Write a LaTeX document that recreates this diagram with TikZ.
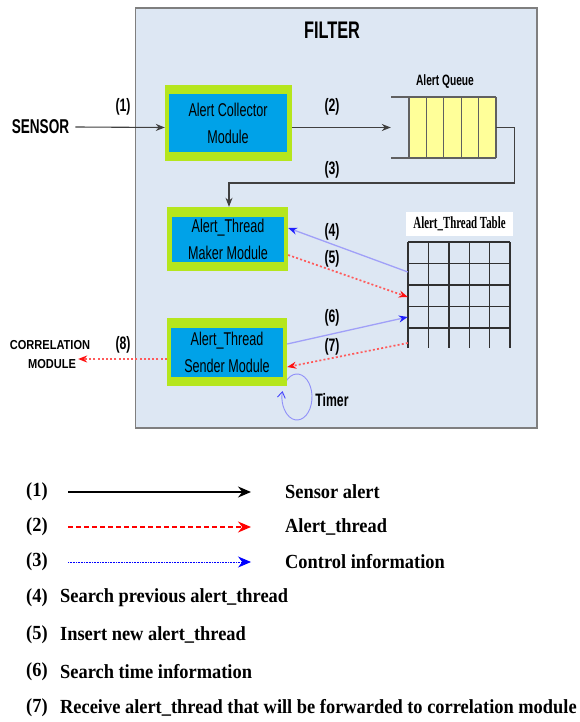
\documentclass[tikz,border=0pt]{standalone}
\usepackage{fontspec}
\setmainfont{Liberation Serif}
\newfontfamily\sansn[FakeStretch=0.68]{Liberation Sans}
\newfontfamily\sansw[FakeStretch=0.85]{Liberation Sans}
\newfontfamily\seriftab[FakeStretch=0.64]{Liberation Serif}
\newfontfamily\serifleg[FakeStretch=0.92]{Liberation Serif}
\usetikzlibrary{arrows.meta,calc}
\definecolor{filterbg}{HTML}{DDE7F3}
\definecolor{filterln}{HTML}{7F7F7F}
\definecolor{lgreen}{HTML}{B5E61D}
\definecolor{mblue}{HTML}{00A2E8}
\definecolor{qyellow}{HTML}{FFFF99}
\definecolor{qline}{HTML}{606060}
\definecolor{ctrlline}{HTML}{A0A0F8}
\definecolor{ctrlhead}{HTML}{2020FF}
\definecolor{redline}{HTML}{FF5A5A}
\definecolor{redhead}{HTML}{FF1010}
\definecolor{darkln}{HTML}{404040}
\definecolor{gridln}{HTML}{303030}
\newcommand\modfont{\sansn\fontsize{18.5}{27}\selectfont}
\newcommand\numfont{\sansn\bfseries\fontsize{18}{20}\selectfont}
\newcommand\legfont{\serifleg\bfseries\fontsize{20}{24}\selectfont}
\tikzset{
  gbox/.style={fill=lgreen, draw=none, inner sep=0pt},
  bbox/.style={fill=mblue, draw=none, inner sep=0pt, align=center, font=\modfont},
  numlab/.style={font=\numfont, inner sep=1pt},
  darkarrow/.style={draw=darkln, line width=1.1pt, -{Stealth[length=9pt,width=7pt]}},
  ctrlarrow/.style={draw=ctrlline, line width=1.3pt, -{Stealth[length=9pt,width=7pt,color=ctrlhead]}},
  dataarrow/.style={draw=redline, line width=1.7pt, dash pattern=on 2pt off 2.2pt, -{Stealth[length=9pt,width=7pt,color=redhead]}},
  legtxt/.style={font=\legfont, inner sep=0pt, anchor=west},
  legblack/.style={draw=black, line width=1.5pt, -{Stealth[length=13pt,width=11pt]}},
  legred/.style={draw=red, line width=1.2pt, dash pattern=on 5pt off 3pt, -{Stealth[length=13pt,width=11pt,color=red]}},
  legblue/.style={draw=blue, line width=0.8pt, dash pattern=on 0.8pt off 0.8pt, -{Stealth[length=13pt,width=11pt,color=blue]}},
}
\begin{document}
\begin{tikzpicture}[x=1pt,y=-1pt]
\useasboundingbox (0,0) rectangle (579,722);
\fill[white] (0,0) rectangle (579,722);

% FILTER container
\node[draw=filterln, fill=filterbg, line width=1.6pt, minimum width=401.5pt, minimum height=420pt, inner sep=0pt] (filter) at (336.25,218) {};
\node[font=\sansn\bfseries\fontsize{24}{28}\selectfont] (filtertitle) at (332,30) {FILTER};

% timer (drawn below sender box)
\draw[draw=ctrlline!90!blue, line width=0.9pt, -{Straight Barb[length=6pt,width=8pt,color=ctrlhead!70!ctrlline]}] (297,397) ++(-150:15 and 23) arc[start angle=-150, end angle=195, x radius=15, y radius=23];
\node[font=\sansn\bfseries\fontsize{18}{20}\selectfont] (timer) at (332,400) {Timer};

% sensor
\node[font=\sansn\bfseries\fontsize{20}{22}\selectfont, inner xsep=6pt] (sensor) at (40.5,127) {SENSOR};

% modules
\node[gbox, minimum width=127pt, minimum height=76pt] (coll) at (228.5,123) {};
\node[bbox, minimum width=118pt, minimum height=58pt] (collin) at (228,123) {Alert Collector\\Module};
\node[gbox, minimum width=121pt, minimum height=64pt] (maker) at (227.5,239) {};
\node[bbox, minimum width=112pt, minimum height=45pt] (makerin) at (228,239.5) {Alert\_Thread\\Maker Module};
\node[gbox, minimum width=120pt, minimum height=68pt] (sender) at (227,352) {};
\node[bbox, minimum width=112pt, minimum height=49pt] (senderin) at (227,352.5) {Alert\_Thread\\Sender Module};

% alert queue
\node[minimum width=105pt, minimum height=61pt, inner sep=0pt] (queue) at (443.5,127.5) {};
\fill[qyellow] (409,97) rectangle (496,158);
\draw[qline, line width=1.2pt] (391,97) -- (496,97) (391,158) -- (496,158);
\foreach \qx in {409,426.4,443.8,461.2,478.6,496} {\draw[qline, line width=1.2pt] (\qx,97) -- (\qx,158);}
\node[font=\sansn\bfseries\fontsize{15}{17}\selectfont] (qlabel) at (445,82) {Alert Queue};

% alert thread table
\node[minimum width=102pt, minimum height=106pt, inner sep=0pt] (tab) at (459,295) {};
\foreach \gx in {408,428.4,448.8,469.2,489.6,510} {\draw[gridln, line width=1.4pt] (\gx,242) -- (\gx,348);}
\foreach \gy in {242,263.5,285,306.5,328} {\draw[gridln, line width=1.6pt] (408,\gy) -- (510,\gy);}
\node[fill=white, minimum width=107pt, minimum height=24pt, inner sep=0pt, font=\seriftab\bfseries\fontsize{17}{19}\selectfont] (tablabel) at (459.5,224) {Alert\_Thread Table};

% correlation module
\node[font=\sansw\bfseries\fontsize{13}{15}\selectfont, inner sep=0pt] (corr1) at (50,345) {CORRELATION};
\node[font=\sansw\bfseries\fontsize{13}{15}\selectfont, inner sep=2pt] (corr2) at (52,364) {MODULE};

% connectors
\draw[darkarrow] (sensor.east) -- (coll.west |- queue.west);
\draw[darkarrow] (coll.east |- queue.west) -- (queue.west);
\draw[darkarrow] (queue.east) -- ++(18,0) -- ++(0,55.5) -| ([xshift=1.5pt]maker.north);
\draw[ctrlarrow] ([yshift=23pt]tab.west) -- ([yshift=11pt]maker.east);
\draw[dataarrow] ([yshift=-16pt]maker.east) -- ([yshift=-2pt]tab.west);
\draw[ctrlarrow] ([yshift=8pt]sender.east) -- ([yshift=-22pt]tab.west);
\draw[dataarrow] ([yshift=-48pt]tab.west) -- ([yshift=-15pt]sender.east);
\coordinate (s8) at ([yshift=-7pt]sender.west);
\draw[dataarrow] (s8) -- (corr2.east |- s8);

% connector labels
\node[numlab] (n1) at (123,107) {(1)};
\node[numlab] (n2) at (332,107) {(2)};
\node[numlab] (n3) at (332,170) {(3)};
\node[numlab] (n4) at (332,232) {(4)};
\node[numlab] (n5) at (332,259) {(5)};
\node[numlab] (n6) at (332,318) {(6)};
\node[numlab] (n7) at (332,347) {(7)};
\node[numlab] (n8) at (123,345) {(8)};

% legend
\node[legtxt] (l1n) at (26,492) {(1)};
\node[legtxt] (l2n) at (26,527) {(2)};
\node[legtxt] (l3n) at (26,562) {(3)};
\node[legtxt] (l4n) at (26,598) {(4)};
\node[legtxt] (l5n) at (26,635) {(5)};
\node[legtxt] (l6n) at (26,672) {(6)};
\node[legtxt] (l7n) at (26,708) {(7)};
\node[legtxt] (l1t) at (285,492) {Sensor alert};
\node[legtxt] (l2t) at (285,527) {Alert\_thread};
\node[legtxt] (l3t) at (285,562) {Control information};
\node[legtxt] (l4t) at (60,598) {Search previous alert\_thread};
\node[legtxt] (l5t) at (60,635) {Insert new alert\_thread};
\node[legtxt] (l6t) at (60,672) {Search time information};
\node[legtxt] (l7t) at (60,708) {Receive alert\_thread that will be forwarded to correlation module};
\coordinate (l1a) at (68,492); \coordinate (l1b) at (251,492);
\coordinate (l2a) at (68,527); \coordinate (l2b) at (251,527);
\coordinate (l3a) at (68,562); \coordinate (l3b) at (251,562);
\draw[legblack] (l1a) -- (l1b);
\draw[legred] (l2a) -- (l2b);
\draw[legblue] (l3a) -- (l3b);
\end{tikzpicture}
\end{document}
